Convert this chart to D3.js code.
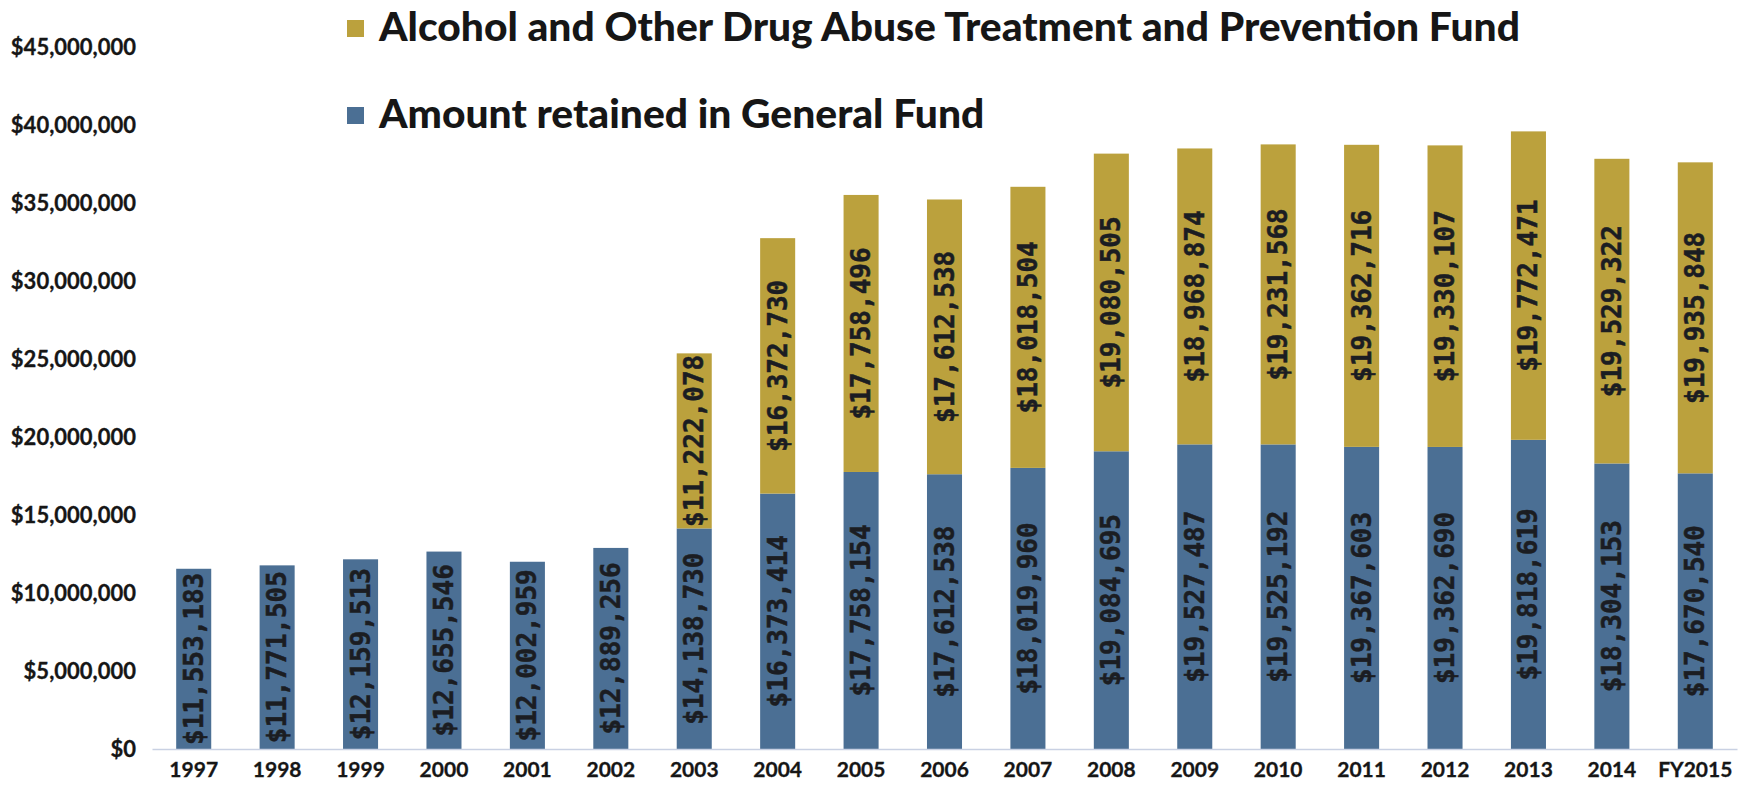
<!DOCTYPE html>
<html>
<head>
<meta charset="utf-8">
<script src="https://cdn.jsdelivr.net/npm/d3@7/dist/d3.min.js"></script>
<style>
  html, body { margin: 0; padding: 0; background: #ffffff; }
  svg { display: block; }
</style>
</head>
<body>
<svg id="chart" width="1747" height="789"></svg>
<script>
// Fiscal years on the x axis
const years = ["1997", "1998", "1999", "2000", "2001", "2002", "2003", "2004", "2005",
  "2006", "2007", "2008", "2009", "2010", "2011", "2012", "2013", "2014", "FY2015"];

// Amount retained in the General Fund (bottom segment)
const generalFund = [11553183, 11771505, 12159513, 12655546, 12002959, 12889256, 14138730,
  16373414, 17758154, 17612538, 18019960, 19084695, 19527487, 19525192, 19367603,
  19362690, 19818619, 18304153, 17670540];

// Alcohol and Other Drug Abuse Treatment and Prevention Fund (top segment)
const treatmentFund = [0, 0, 0, 0, 0, 0, 11222078, 16372730, 17758496, 17612538, 18018504,
  19080505, 18968874, 19231568, 19362716, 19330107, 19772471, 19529322, 19935848];

// Y axis tick values
const yTicks = [0, 5000000, 10000000, 15000000, 20000000, 25000000, 30000000, 35000000,
  40000000, 45000000];

const seriesNames = ["Alcohol and Other Drug Abuse Treatment and Prevention Fund",
  "Amount retained in General Fund"];
const colors = { general: "#4b6f94", treatment: "#bba13d" };

const svg = d3.select("#chart");

const rows = years.map((y, i) => ({ year: y, general: generalFund[i], treatment: treatmentFund[i] }));
const stack = d3.stack().keys(["general", "treatment"]);
const layers = stack(rows);

const x = d3.scaleBand()
  .domain(years)
  .range([152, 1737])
  .paddingInner(0.58)
  .paddingOuter(0.29);

const y = d3.scaleLinear()
  .domain([0, 45000000])
  .range([749, 47]);

const fmt = d3.format("$,");
const axisFont = "Lato, 'Open Sans', sans-serif";

// Y axis: labels only
const yAxis = svg.append("g")
  .attr("transform", "translate(136,0)")
  .call(d3.axisLeft(y).tickValues(yTicks).tickFormat(d => fmt(d)).tickSize(0).tickPadding(0));
yAxis.select(".domain").remove();
yAxis.selectAll("text")
  .attr("font-family", axisFont)
  .attr("font-weight", "bold")
  .attr("font-size", 22)
  .attr("fill", "#161616")
  .attr("stroke", "#161616")
  .attr("stroke-width", 0.3);

// Stacked bars
svg.append("g").selectAll("g")
  .data(layers)
  .join("g")
  .attr("fill", d => colors[d.key])
  .selectAll("rect")
  .data(d => d.filter(s => s[1] - s[0] > 0))
  .join("rect")
  .attr("x", d => x(d.data.year))
  .attr("width", x.bandwidth())
  .attr("y", d => y(d[1]))
  .attr("height", d => y(d[0]) - y(d[1]));

// X axis
const xAxis = svg.append("g")
  .attr("transform", "translate(0,749)")
  .call(d3.axisBottom(x).tickSize(0).tickPadding(13));
xAxis.select(".domain").attr("stroke", "#c9d1e3").attr("stroke-width", 1.5);
xAxis.selectAll("text")
  .attr("font-family", axisFont)
  .attr("font-weight", "bold")
  .attr("font-size", 21)
  .attr("fill", "#161616")
  .attr("stroke", "#161616")
  .attr("stroke-width", 0.3);

// Value labels, rotated, centred in each segment
svg.append("g").selectAll("g")
  .data(layers)
  .join("g")
  .selectAll("text")
  .data(d => d.filter(s => s[1] - s[0] > 0))
  .join("text")
  .attr("transform", d => {
    const cx = x(d.data.year) + x.bandwidth() / 2;
    const cy = (y(d[0]) + y(d[1])) / 2;
    return `translate(${cx},${cy}) rotate(-90)`;
  })
  .attr("text-anchor", "middle")
  .attr("dominant-baseline", "central")
  .attr("font-family", "'DejaVu Sans Mono', 'Liberation Mono', monospace")
  .attr("font-weight", "bold")
  .attr("font-size", 26)
  .attr("fill", "#1b1d22")
  .attr("stroke", "#1b1d22")
  .attr("stroke-width", 0.5)
  .text(d => fmt(d[1] - d[0]));

// Legend
const legend = svg.append("g");
const legendItems = [
  { name: seriesNames[0], color: colors.treatment, sqY: 20, baseY: 41 },
  { name: seriesNames[1], color: colors.general, sqY: 107, baseY: 128 }
];
legend.selectAll("rect")
  .data(legendItems)
  .join("rect")
  .attr("x", 347)
  .attr("y", d => d.sqY)
  .attr("width", 17)
  .attr("height", 17)
  .attr("fill", d => d.color);
const legendText = legend.selectAll("text")
  .data(legendItems)
  .join("text")
  .attr("x", 379)
  .attr("y", d => d.baseY)
  .attr("font-family", axisFont)
  .attr("font-weight", 900)
  .attr("font-size", 40)
  .attr("fill", "#161616")
  .text(d => d.name);

// Fit the legend font so the longer entry spans its intended width
const firstLen = legendText.nodes()[0].getComputedTextLength();
const legendSize = 40 * 1141 / firstLen;
legendText.attr("font-size", legendSize);
</script>
</body>
</html>
